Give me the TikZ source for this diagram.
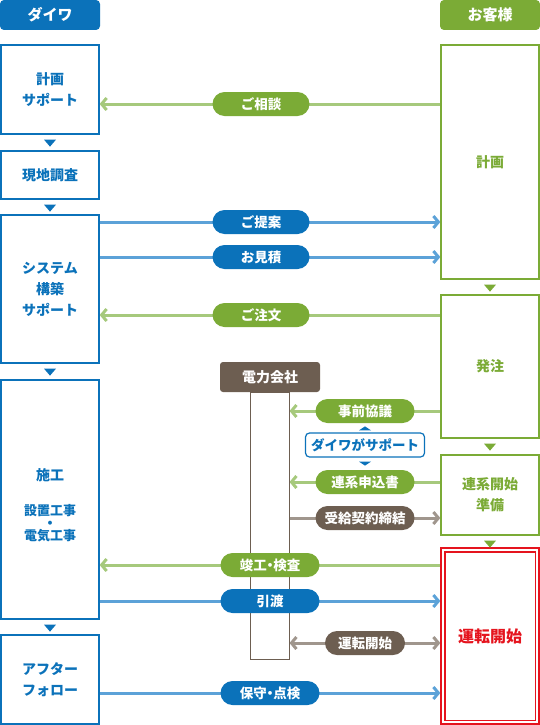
\documentclass[tikz,border=0pt]{standalone}
\usepackage{fontspec}
\setmainfont{Noto Sans CJK JP}
\usetikzlibrary{arrows.meta,calc,backgrounds}
\definecolor{dblue}{HTML}{0B72BA}
\definecolor{lblue}{HTML}{5CA2D8}
\definecolor{dgreen}{HTML}{7BAB36}
\definecolor{lgreen}{HTML}{A6C97C}
\definecolor{dbrown}{HTML}{6D5E51}
\definecolor{lbrown}{HTML}{A0968D}
\definecolor{dred}{HTML}{E5141E}
\newcommand{\tightdot}{\kern-3.5pt・\kern-3.5pt}
\begin{document}
\begin{tikzpicture}[x=1pt,y=-1pt,
 hdr/.style={rounded corners=4pt, minimum width=100pt, minimum height=30pt, inner sep=0pt, text=white, font=\fontsize{15}{18}\selectfont\bfseries},
 lbox/.style={draw=dblue, line width=1.3pt, fill=white, text=dblue, align=center, inner sep=0pt, minimum width=98pt, font=\fontsize{14}{21}\selectfont\bfseries},
 rbox/.style={lbox, draw=dgreen, text=dgreen},
 pill/.style={rounded corners=12pt, minimum height=24pt, minimum width=97pt, inner sep=0pt, text=white, font=\fontsize{13.5}{16}\selectfont\bfseries},
 bpill/.style={pill, fill=dblue},
 gpill/.style={pill, fill=dgreen},
 brpill/.style={pill, fill=dbrown},
 conn/.style={line width=3pt},
 tipend/.style={-{Straight Barb[length=5pt,width=12pt]}},
 tipboth/.style={{Straight Barb[length=5pt,width=12pt]}-{Straight Barb[length=5pt,width=12pt]}}
]
\useasboundingbox (0,0) rectangle (540,725);

% headers
\node[hdr, fill=dblue] (hdL) at (50,15) {ダイワ};
\node[hdr, fill=dgreen] (hdR) at (490,15) {お客様};

% left column
\node[lbox, minimum height=89pt] (L1) at (50,89.5) {計画\\サポート};
\node[lbox, minimum height=48pt] (L2) at (50,175) {現地調査};
\node[lbox, minimum height=148pt] (L3) at (50,289) {システム\\構築\\サポート};
\node[lbox, minimum height=239pt] (L4) at (50,499.5) {};
\node[text=dblue, align=center, inner sep=0pt, font=\fontsize{14}{21}\selectfont\bfseries] (L4t) at ($(L4.center)+(0,6)$) {施工\\[14pt]{\fontsize{13}{20}\selectfont 設置工事}\\[-8pt]・\\[-9pt]{\fontsize{13}{20}\selectfont 電気工事}};
\node[lbox, minimum height=89pt] (L5) at (50,679.5) {アフター\\フォロー};

% right column
\node[rbox, minimum height=234pt] (R1) at (490,162) {計画};
\node[rbox, minimum height=143pt] (R2) at (490,366.5) {発注};
\node[rbox, minimum height=80pt] (R3) at (490,495) {連系開始\\準備};
\node[rbox, draw=dred, text=dred, minimum height=176pt, font=\fontsize{16}{20}\selectfont\bfseries] (R4) at (490,636) {運転開始};
\draw[dred, line width=1.3pt] ($(R4.north west)+(4.5,4.5)$) rectangle ($(R4.south east)+(-4.5,-4.5)$);

% down triangles
\foreach \a in {L1,L2,L3,L4}
  \fill[dblue] ($(\a.south)+(-6,5)$) -- ++(12,0) -- ++(-6,7) -- cycle;
\foreach \a in {R1,R2,R3}
  \fill[dgreen] ($(\a.south)+(-6,5)$) -- ++(12,0) -- ++(-6,7) -- cycle;

% power company
\node[draw=dbrown, line width=1pt, minimum width=39pt, minimum height=267pt, inner sep=0pt] (col) at (269.5,525.5) {};
\node[hdr, fill=dbrown, rounded corners=3pt, font=\fontsize{14}{17}\selectfont\bfseries] (pw) at (270,377) {電力会社};

% pills
\node[gpill] (p1) at (261,104) {ご相談};
\node[bpill] (p2) at (261,222) {ご提案};
\node[bpill] (p3) at (261,257) {お見積};
\node[gpill] (p4) at (261,315) {ご注文};
\node[gpill, minimum width=99pt] (p5) at (365,411) {事前協議};
\node[draw=dblue, line width=1.2pt, fill=white, rounded corners=4pt, minimum width=119pt, minimum height=24pt, inner sep=0pt, text=dblue, font=\fontsize{13.5}{16}\selectfont\bfseries] (sup) at (365,445) {ダイワがサポート};
\fill[dblue] ($(sup.north)+(-6,-2)$) -- ++(12,0) -- ++(-6,-4) -- cycle;
\fill[dblue] ($(sup.south)+(-6,4)$) -- ++(12,0) -- ++(-6,4) -- cycle;
\node[gpill, minimum width=99pt] (p6) at (365,482) {連系申込書};
\node[brpill, minimum width=99pt] (p7) at (365,518) {受給契約締結};
\node[gpill, minimum width=99pt] (p8) at (270,565) {竣工\tightdot 検査};
\node[bpill, minimum width=99pt] (p9) at (270,601) {引渡};
\node[brpill, minimum width=80pt] (p10) at (365,643) {運転開始};
\node[bpill, minimum width=99pt] (p11) at (270,693) {保守\tightdot 点検};

% connectors
\begin{scope}[on background layer]
\draw[conn, lgreen, tipend] (R1.west |- p1) -- (L1.east |- p1);
\draw[conn, lblue, tipend] (L3.east |- p2) -- (R1.west |- p2);
\draw[conn, lblue, tipend] (L3.east |- p3) -- (R1.west |- p3);
\draw[conn, lgreen, tipend] (R2.west |- p4) -- (L3.east |- p4);
\draw[conn, lgreen, tipend] (R2.west |- p5) -- (col.east |- p5);
\draw[conn, lgreen, tipend] (R3.west |- p6) -- (col.east |- p6);
\draw[conn, lbrown, tipend] (col.east |- p7) -- (R3.west |- p7);
\draw[conn, lgreen, tipend] (R4.west |- p8) -- (L4.east |- p8);
\draw[conn, lblue, tipend] (L4.east |- p9) -- (R4.west |- p9);
\draw[conn, lbrown, tipboth] (col.east |- p10) -- (R4.west |- p10);
\draw[conn, lblue, tipend] (L5.east |- p11) -- (R4.west |- p11);
\end{scope}
\end{tikzpicture}
\end{document}
